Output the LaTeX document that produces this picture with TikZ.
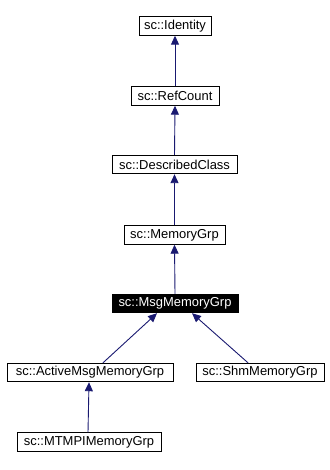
\documentclass[tikz,border=0pt]{standalone}
\usepackage{fontspec}
\setmainfont{Liberation Sans}
\usetikzlibrary{arrows.meta}
\definecolor{edgeblue}{HTML}{191970}
\begin{document}
\begin{tikzpicture}[x=1bp,y=-1bp,
  cls/.style={draw=black, line width=0.9bp, fill=white, inner sep=0pt, minimum height=18.5bp, font=\fontsize{13}{15}\selectfont, text=black},
  cur/.style={cls, fill=black, text=white},
  inh/.style={draw=edgeblue, line width=0.9bp, -{Triangle[length=9bp,width=8bp]}}]
\useasboundingbox (0,0) rectangle (329,470);
\node[cls, minimum width=72bp] (id) at (175,26) {sc::Identity};
\node[cls, minimum width=88bp] (rc) at (175,96) {sc::RefCount};
\node[cls, minimum width=125bp] (dc) at (174.5,164.5) {sc::DescribedClass};
\node[cls, minimum width=101bp] (mg) at (174.5,235) {sc::MemoryGrp};
\node[cur, minimum width=126bp] (msg) at (175,303.5) {sc::MsgMemoryGrp};
\node[cls, minimum width=166bp] (act) at (90,372.5) {sc::ActiveMsgMemoryGrp};
\node[cls, minimum width=128bp] (shm) at (260,372.5) {sc::ShmMemoryGrp};
\node[cls, minimum width=144bp] (mt) at (89,442) {sc::MTMPIMemoryGrp};
\draw[inh] (rc.north) -- (id.south);
\draw[inh] (dc.north) -- (rc.south);
\draw[inh] (mg.north) -- (dc.south);
\draw[inh] (msg.north) -- (mg.south);
\draw[inh] ([xshift=13bp]act.north) -- ([xshift=-18bp]msg.south);
\draw[inh] ([xshift=-12bp]shm.north) -- ([xshift=17bp]msg.south);
\draw[inh] ([xshift=-1bp]mt.north) -- ([xshift=-1bp]act.south);
\end{tikzpicture}
\end{document}
